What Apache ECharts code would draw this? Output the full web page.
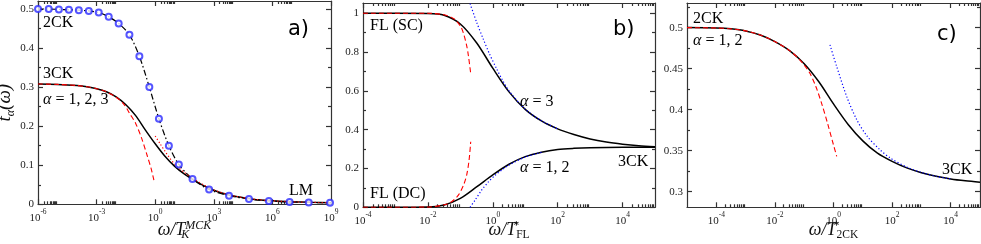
<!DOCTYPE html>
<html><head><meta charset="utf-8">
<script src="https://cdn.jsdelivr.net/npm/echarts@6/dist/echarts.min.js"></script>
<style>html,body{margin:0;padding:0;background:#fff;}#c{width:981px;height:244px;}</style>
</head><body><div id="c"></div>
<script>
// ---------- Panel a) : x = log10(omega / T_K^MCK), y = t_alpha ----------
const a2CK_logw = [-6,-5.45,-4.93,-4.42,-3.91,-3.4,-2.89,-2.38,-1.87,-1.32,-0.81,-0.3,0.19,0.7,1.21,1.91,2.76,3.78,4.8,5.82,6.88,7.86,8.95];
const a2CK_t    = [0.5,0.5,0.499,0.498,0.497,0.495,0.491,0.48,0.463,0.434,0.379,0.3,0.219,0.15,0.102,0.065,0.038,0.022,0.0138,0.0087,0.006,0.0048,0.0042];
const a3CK_logw = [-6,-5,-4,-3.5,-3,-2.5,-2,-1.5,-1,-0.5,0,0.5,1,1.5,2,2.5,3,3.5,4,5,6,7,8,9];
const a3CK_t    = [0.308,0.307,0.304,0.301,0.296,0.288,0.275,0.255,0.227,0.19,0.155,0.123,0.097,0.077,0.061,0.047,0.036,0.0275,0.0212,0.0132,0.009,0.0066,0.005,0.0042];
const aRedDash_logw = [-6,-5,-4,-3.5,-3,-2.5,-2,-1.6,-1.3,-1,-0.7,-0.4,-0.2,-0.05];
const aRedDash_t    = [0.308,0.307,0.304,0.301,0.296,0.288,0.274,0.256,0.232,0.207,0.17,0.123,0.09,0.058];
const aRedDot_logw  = [0,0.25,0.5,0.75,1,1.5,2,2.5,3,3.5,4,5,6,7,8,9];
const aRedDot_t     = [0.175,0.155,0.136,0.118,0.103,0.081,0.064,0.049,0.037,0.0285,0.0217,0.0134,0.009,0.0066,0.005,0.0042];
// ---------- Panel b) : x = log10(omega / T*_FL) ----------
const bSC_logw = [-4,-3,-2,-1.5,-1,-0.5,0,0.5,1,1.5,2,2.5,3,3.5,4,4.5,5];
const bSC_t    = [1,1,0.999,0.99,0.945,0.848,0.717,0.595,0.505,0.445,0.404,0.375,0.352,0.336,0.325,0.317,0.312];
const bDC_logw = [-4,-3,-2,-1.5,-1,-0.5,0,0.5,1,1.5,2,2.5,3,4,5];
const bDC_t    = [0,0,0.001,0.012,0.046,0.105,0.167,0.222,0.261,0.284,0.298,0.304,0.307,0.309,0.31];
const bRedSC_logw = [-4,-2,-1.5,-1.2,-1,-0.9,-0.8,-0.75,-0.68];
const bRedSC_t    = [1,1,0.992,0.972,0.935,0.895,0.83,0.78,0.69];
const bRedDC_logw = [-4,-2,-1.5,-1.26,-1.06,-0.9,-0.8,-0.73,-0.68];
const bRedDC_t    = [0,0.001,0.013,0.03,0.063,0.115,0.17,0.244,0.338];
const bBlueSC_logw = [-0.7,-0.5,-0.3,-0.1,0.1,0.3,0.5,1,1.5,2];
const bBlueSC_t    = [1.05,0.955,0.87,0.79,0.72,0.655,0.6,0.506,0.446,0.404];
const bBlueDC_logw = [-0.7,-0.55,-0.35,-0.15,0.05,0.3,0.5,1,1.5];
const bBlueDC_t    = [0,0.036,0.087,0.128,0.162,0.195,0.218,0.259,0.283];
// ---------- Panel c) : x = log10(omega / T*_2CK) ----------
const cBlack_logw = [-5,-4,-3.5,-3,-2.5,-2,-1.5,-1,-0.5,0,0.5,1,1.5,2,2.5,3,3.5,4,4.5,5];
const cBlack_t    = [0.5,0.4995,0.4985,0.496,0.491,0.483,0.472,0.456,0.434,0.407,0.382,0.362,0.347,0.337,0.329,0.3232,0.3188,0.3156,0.3133,0.3115];
const cRed_logw = [-5,-4,-3.5,-3,-2.5,-2,-1.5,-1.2,-1,-0.8,-0.6,-0.4,-0.2,0,0.11];
const cRed_t    = [0.5,0.4995,0.4985,0.496,0.491,0.483,0.472,0.4625,0.4545,0.444,0.428,0.407,0.383,0.357,0.343];
const cBlue_logw = [-0.12,0.11,0.45,0.79,1.14,1.59,1.94,2.5,3,3.5,4];
const cBlue_t    = [0.479,0.4524,0.416,0.388,0.368,0.351,0.341,0.330,0.3235,0.3188,0.3157];
// ---------- Tick labels ----------
const aXTickExp = [-6,-3,0,3,6,9];
const bXTickExp = [-4,-2,0,2,4];
const cXTickExp = [-4,-2,0,2,4];
const aYTicks = [0,0.1,0.2,0.3,0.4,0.5];
const bYTicks = [0,0.2,0.4,0.6,0.8,1];
const cYTicks = [0.3,0.35,0.4,0.45,0.5];

const SERIF = '"Liberation Serif","DejaVu Serif",serif';
const AXC = '#333';
const pairs = (lw, t) => lw.map((e, i) => [Math.pow(10, e), t[i]]);
const minorExps = (majors, lo, hi) => {
  const out = [];
  majors.forEach(n => { for (let k = 2; k <= 9; k++) { const v = n + Math.log10(k); if (v > lo && v < hi) out.push(v); } });
  return out;
};
const minorY = (majors) => {
  const out = []; for (let i = 0; i < majors.length - 1; i++) out.push((majors[i] + majors[i+1]) / 2);
  out.push(majors[majors.length-1] + (majors[1]-majors[0]) / 2);
  return out;
};

const gridBase = {containLabel: false, outerBoundsMode: 'none'};
const grids = [
  Object.assign({left: 38, top: 1, width: 293, height: 203.3}, gridBase),
  Object.assign({left: 363, top: 3, width: 292, height: 204.3}, gridBase),
  Object.assign({left: 687, top: 3, width: 293, height: 204.3}, gridBase)
];
// stacked sub/superscripts: the first of the pair has zero width
const xCfg = [
  {lo: -6, hi: 9, majors: aXTickExp, gap: 15, name: '{i|ω/T}{sub0|K}{sup|MCK}'},
  {lo: -4, hi: 5, majors: bXTickExp, gap: 12, name: '{i|ω/T}{sup0|*}{subr|FL}'},
  {lo: -5, hi: 5, majors: cXTickExp, gap: 12, name: '{i|ω/T}{sup0|*}{subr|2CK}'}
];
const yCfg = [
  {min: 0, max: 0.5205, ticks: aYTicks},
  {min: 0, max: 1.053, ticks: bYTicks},
  {min: 0.281, max: 0.530, ticks: cYTicks}
];

const lineSt = {color: AXC, width: 1.2};
const xAxis = [], yAxis = [];
xCfg.forEach((c, g) => {
  const mins = minorExps(c.majors, c.lo, c.hi);
  xAxis.push({type: 'log', logBase: 10, gridIndex: g, min: Math.pow(10, c.lo), max: Math.pow(10, c.hi), show: false});
  ['bottom', 'top'].forEach(pos => {
    xAxis.push({
      type: 'value', gridIndex: g, position: pos, min: c.lo, max: c.hi,
      axisLine: {onZero: false, lineStyle: lineSt},
      axisTick: {inside: true, length: 5, customValues: c.majors, lineStyle: lineSt},
      axisLabel: pos === 'bottom' ? {
        customValues: c.majors, margin: 4, color: '#222',
        formatter: v => '{b|10}{s|' + v + '}',
        rich: {b: {fontSize: 11, fontFamily: SERIF, color: '#222'},
               s: {fontSize: 7.5, fontFamily: SERIF, color: '#222', padding: [0, 0, 12, 0]}}
      } : {show: false},
      splitLine: {show: false},
      name: pos === 'bottom' ? c.name : '', nameLocation: 'middle', nameGap: c.gap, nameMoveOverlap: false,
      nameTextStyle: {fontFamily: SERIF, fontSize: 18, color: '#111',
        rich: {i: {fontStyle: 'italic', fontSize: 18, fontFamily: SERIF},
               sub0: {fontStyle: 'italic', fontSize: 12, fontFamily: SERIF, padding: [10, 0, 0, 0], width: 0},
               subr: {fontSize: 11.5, fontFamily: SERIF, padding: [10, 0, 0, 0]},
               sup0: {fontSize: 12, fontFamily: SERIF, padding: [0, 0, 9, 0], width: 0},
               sup: {fontStyle: 'italic', fontSize: 12, fontFamily: SERIF, padding: [0, 0, 9, 0]}}}
    });
    xAxis.push({
      type: 'value', gridIndex: g, position: pos, min: c.lo, max: c.hi,
      axisLine: {show: false, onZero: false},
      axisTick: {inside: true, length: 3, customValues: mins, lineStyle: lineSt},
      axisLabel: {show: false}, splitLine: {show: false}
    });
  });
});
yCfg.forEach((c, g) => {
  const mins = minorY(c.ticks).filter(v => v < c.max);
  ['left', 'right'].forEach(pos => {
    yAxis.push({
      type: 'value', gridIndex: g, position: pos, min: c.min, max: c.max,
      axisLine: {onZero: false, lineStyle: lineSt},
      axisTick: {inside: true, length: 5, customValues: c.ticks, lineStyle: lineSt},
      axisLabel: pos === 'left' ? {customValues: c.ticks, margin: 4, fontSize: 11, fontFamily: SERIF, color: '#222'} : {show: false},
      splitLine: {show: false},
      name: (pos === 'left' && g === 0) ? '{i|t}{sub|α}{i|(ω)}' : '',
      nameLocation: 'middle', nameRotate: 90, nameGap: 16,
      nameTextStyle: {fontFamily: SERIF, fontSize: 19, color: '#111',
        rich: {i: {fontStyle: 'italic', fontSize: 19, fontFamily: SERIF},
               sub: {fontStyle: 'italic', fontSize: 12, fontFamily: SERIF, padding: [10, 0, 0, 0]}}}
    });
    yAxis.push({
      type: 'value', gridIndex: g, position: pos, min: c.min, max: c.max,
      axisLine: {show: false, onZero: false},
      axisTick: {inside: true, length: 3, customValues: mins, lineStyle: lineSt},
      axisLabel: {show: false}, splitLine: {show: false}
    });
  });
});

const XI = g => g * 5, YI = g => g * 4;
const mk = (g, data, color, width, type, z) => ({
  type: 'line', xAxisIndex: XI(g), yAxisIndex: YI(g), data, symbol: 'none', showSymbol: false,
  smooth: 0.3, lineStyle: {color, width, type}, z, silent: true, clip: true
});
const DASH = [5, 3], DOT = [1.2, 2.2], DASHDOT = [6, 2.5, 1.5, 2.5];
const series = [
  mk(0, pairs(a3CK_logw, a3CK_t), '#000', 1.5, 'solid', 2),
  mk(0, pairs(aRedDash_logw, aRedDash_t), '#ff0000', 1.1, DASH, 3),
  mk(0, pairs(aRedDot_logw, aRedDot_t), '#ff0000', 1.2, DOT, 3),
  mk(0, pairs(a2CK_logw, a2CK_t), '#000', 1.2, DASHDOT, 2),
  {type: 'scatter', xAxisIndex: 0, yAxisIndex: 0, data: pairs(a2CK_logw, a2CK_t), symbol: 'emptyCircle',
   symbolSize: 6, itemStyle: {color: '#2a2aff', borderColor: '#2a2aff', borderWidth: 1.1}, z: 5, silent: true},
  mk(1, pairs(bSC_logw, bSC_t), '#000', 1.5, 'solid', 2),
  mk(1, pairs(bDC_logw, bDC_t), '#000', 1.5, 'solid', 2),
  mk(1, pairs(bRedSC_logw, bRedSC_t), '#ff0000', 1.1, DASH, 3),
  mk(1, pairs(bRedDC_logw, bRedDC_t), '#ff0000', 1.1, DASH, 3),
  mk(1, pairs(bBlueSC_logw, bBlueSC_t), '#0000ff', 1.2, DOT, 3),
  mk(1, pairs(bBlueDC_logw, bBlueDC_t), '#0000ff', 1.2, DOT, 3),
  mk(2, pairs(cBlack_logw, cBlack_t), '#000', 1.5, 'solid', 2),
  mk(2, pairs(cRed_logw, cRed_t), '#ff0000', 1.1, DASH, 3),
  mk(2, pairs(cBlue_logw, cBlue_t), '#0000ff', 1.2, DOT, 3)
];

const T = (x, y, text, extra) => Object.assign({
  type: 'text', x, y, silent: true, z: 100,
  style: Object.assign({text, fill: '#000', font: '16px ' + SERIF, textVerticalAlign: 'middle', verticalAlign: 'middle',
    rich: {i: {fontStyle: 'italic', fontSize: 16, fontFamily: SERIF}}}, extra || {})
});
const SANS = '21px "DejaVu Sans", sans-serif';
const graphic = [
  T(43, 23, '2CK'), T(43, 74, '3CK'), T(43, 100, '{i|α} = 1, 2, 3'), T(289, 191, 'LM'),
  T(288, 30, 'a)', {font: SANS}),
  T(370, 26, 'FL (SC)'), T(520, 102, '{i|α} = 3'), T(618, 162, '3CK'), T(520, 168, '{i|α} = 1, 2'), T(370, 194, 'FL (DC)'),
  T(613, 30, 'b)', {font: SANS}),
  T(693, 19, '2CK'), T(693, 41, '{i|α} = 1, 2'), T(942, 170, '3CK'),
  T(937, 35, 'c)', {font: SANS})
];

const chart = echarts.init(document.getElementById('c'), null, {renderer: 'canvas'});
chart.setOption({animation: false, backgroundColor: '#fff', grid: grids, xAxis, yAxis, series, graphic});
</script></body></html>
